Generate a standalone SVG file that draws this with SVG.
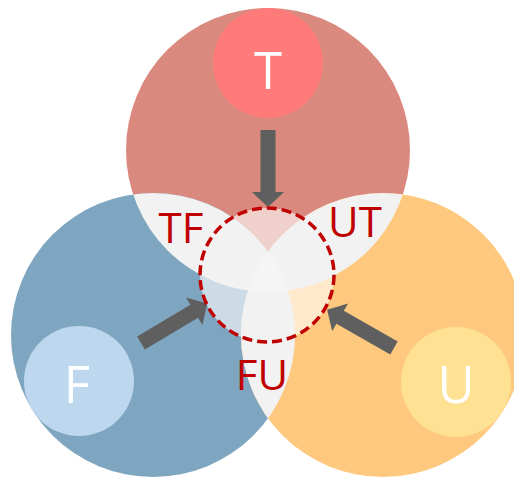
<svg xmlns="http://www.w3.org/2000/svg" width="514" height="477" viewBox="0 0 514 477">
<style>
.lbl{font-family:"Open Sans","Liberation Sans",sans-serif;text-anchor:middle}
.w{fill:#ffffff;font-size:51px}
.r{fill:#c00000;font-size:42px}
.lens{fill:#f2f2f2}
.arrow{fill:#5f5f5f}
</style>
<defs>
<clipPath id="cR"><circle cx="268" cy="150" r="142"/></clipPath>
<clipPath id="cB"><circle cx="153" cy="335" r="142"/></clipPath>
<clipPath id="cO"><circle cx="383" cy="335" r="142"/></clipPath>
<path id="arr" d="M0,-7.5 L62,-7.5 L62,-16 L77,0 L62,16 L62,7.5 L0,7.5 Z"/>
</defs>
<rect width="514" height="477" fill="#ffffff"/>
<g id="circle-T-big"><circle cx="268" cy="150" r="142" fill="#d9897e"/></g>
<g id="circle-F-big"><circle cx="153" cy="335" r="142" fill="#7fa6c0"/></g>
<g id="circle-U-big"><circle cx="383" cy="335" r="142" fill="#fec97f"/></g>
<g id="overlay"><circle cx="267" cy="275" r="67" fill="#ffffff" fill-opacity="0.6"/></g>
<g id="lens-TF"><circle cx="153" cy="335" r="142" class="lens" clip-path="url(#cR)"/></g>
<g id="lens-UT"><circle cx="383" cy="335" r="142" class="lens" clip-path="url(#cR)"/></g>
<g id="lens-FU"><circle cx="383" cy="335" r="142" class="lens" clip-path="url(#cB)"/></g>
<g id="triple" clip-path="url(#cR)"><circle cx="383" cy="335" r="142" fill="#f5f5f5" clip-path="url(#cB)"/></g>
<g id="node-T"><circle cx="268" cy="63" r="55" fill="#ff7b79"/><text class="lbl w" x="268" y="89">T</text></g>
<g id="node-F"><circle cx="79" cy="381" r="55" fill="#bdd7ee"/><text class="lbl w" x="77" y="403">F</text></g>
<g id="node-U"><circle cx="456" cy="382" r="55" fill="#ffe194"/><text class="lbl w" x="456" y="403">U</text></g>
<g id="connectors">
<use href="#arr" class="arrow" transform="translate(268,130) rotate(90)"/>
<use href="#arr" class="arrow" transform="translate(141,343) rotate(-30.8)"/>
<use href="#arr" class="arrow" transform="translate(394,348) rotate(209.7)"/>
</g>
<g id="center"><circle cx="267" cy="275" r="67" fill="none" stroke="#c00000" stroke-width="3.5" stroke-dasharray="10 5"/></g>
<g id="label-TF"><text class="lbl r" x="181" y="243">TF</text></g>
<g id="label-UT"><text class="lbl r" x="355" y="237">UT</text></g>
<g id="label-FU"><text class="lbl r" x="262" y="390">FU</text></g>
</svg>
